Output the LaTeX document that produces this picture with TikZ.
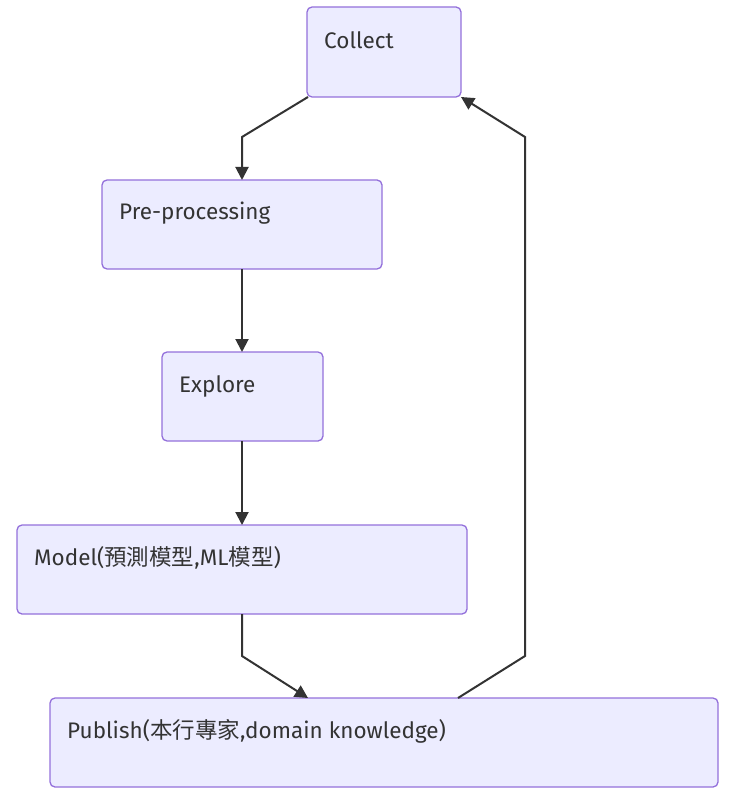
\documentclass[tikz,border=0pt]{standalone}
\usepackage{fontspec}
\setmainfont{Fira Sans}
\newfontfamily\cjk{Noto Sans CJK TC}
\usetikzlibrary{arrows.meta}
\definecolor{boxfill}{HTML}{ECECFF}
\definecolor{boxline}{HTML}{9370DB}
\definecolor{edge}{HTML}{333333}
\begin{document}
\begin{tikzpicture}[x=1pt,y=-1pt,
  box/.style={draw=boxline,fill=boxfill,line width=1.3pt,rounded corners=5pt},
  lbl/.style={anchor=west,inner sep=0pt,text=edge,font=\fontsize{22.5}{26}\selectfont},
  conn/.style={draw=edge,line width=2pt,-{Triangle[length=13pt,width=13pt]}}]
\useasboundingbox (0,0) rectangle (735,799);
% boxes
\draw[box] (307,7) rectangle (461,97);
\draw[box] (102,180) rectangle (382,269);
\draw[box] (162,352) rectangle (323,441);
\draw[box] (17,525) rectangle (467,614);
\draw[box] (50,698) rectangle (718,787);
% labels
\node[lbl] (collect) at (324,40) {Collect};
\node[lbl] (pre) at (119,213) {Pre-processing};
\node[lbl] (explore) at (179,386) {Explore};
\node[lbl] (model) at (34,558) {Model({\cjk 預測模型},ML{\cjk 模型})};
\node[lbl] (publish) at (67,731) {Publish({\cjk 本行專家},domain knowledge)};
% anchors
\coordinate (cBL) at (308,97);
\coordinate (cBR) at (461,97);
\coordinate (pT) at (242,180);
\coordinate (pB) at (242,269);
\coordinate (eT) at (242,352);
\coordinate (eB) at (242,441);
\coordinate (mT) at (242,525);
\coordinate (mB) at (242,614);
\coordinate (puT1) at (308,698);
\coordinate (puT2) at (458,698);
% connectors
\draw[conn] (cBL) -- (242,137) -- (pT);
\draw[conn] (pB) -- (eT);
\draw[conn] (eB) -- (mT);
\draw[conn] (mB) -- (242,656) -- (puT1);
\draw[conn] (puT2) -- (525,656) -- (525,137) -- (cBR);
\end{tikzpicture}
\end{document}
